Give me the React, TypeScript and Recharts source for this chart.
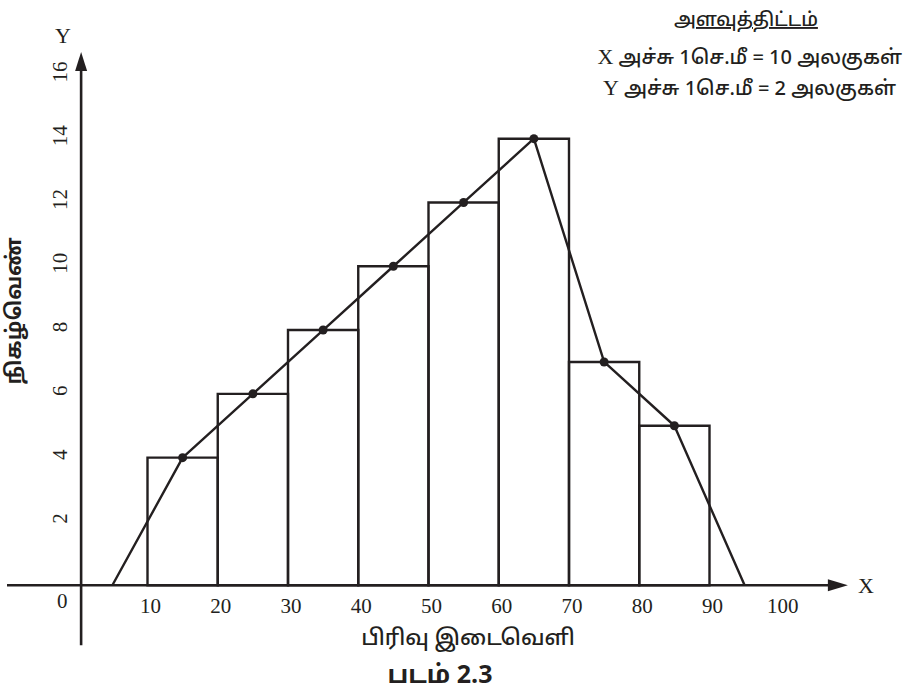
import React from 'react';
import { ComposedChart, Line, XAxis, YAxis, ReferenceArea, ReferenceLine, ReferenceDot } from 'recharts';

const classLower = [10, 20, 30, 40, 50, 60, 70, 80];
const classUpper = [20, 30, 40, 50, 60, 70, 80, 90];
const frequencies = [4, 6, 8, 10, 12, 14, 7, 5];
const curveX = [5, 15, 25, 35, 45, 55, 65, 75, 85, 95];
const curveY = [0, 4, 6, 8, 10, 12, 14, 7, 5, 0];
const xTicks = [10, 20, 30, 40, 50, 60, 70, 80, 90, 100];
const yTicks = [2, 4, 6, 8, 10, 12, 14, 16];

const titleText = 'அளவுத்திட்டம்';
const scaleX = ' அச்சு 1செ.மீ = 10 அலகுகள்';
const scaleY = ' அச்சு 1செ.மீ = 2 அலகுகள்';
const xTitle = 'பிரிவு இடைவெளி';
const yTitle = 'நிகழ்வெண்';
const caption = 'படம் 2.3';

const curveData = curveX.map((x, i) => ({ x, y: curveY[i] }));

const SERIF = "'Liberation Serif', 'DejaVu Serif', serif";
const SANS = "'Noto Sans Tamil', 'Noto Sans', Lato, Roboto, sans-serif";
const INK = '#231f20';

const HArrowLine = (p: any) => (
  <g>
    <line x1={p.x1} y1={p.y1} x2={p.x2 - 10} y2={p.y2} stroke={INK} strokeWidth={2.6} />
    <polygon points={`${p.x2},${p.y2} ${p.x2 - 20},${p.y2 - 6} ${p.x2 - 20},${p.y2 + 6}`} fill={INK} />
  </g>
);

const VArrowLine = (p: any) => {
  const top = Math.min(p.y1, p.y2);
  const bottom = Math.max(p.y1, p.y2);
  return (
    <g>
      <line x1={p.x1} y1={bottom} x2={p.x1} y2={top + 10} stroke={INK} strokeWidth={2.6} />
      <polygon points={`${p.x1},${top} ${p.x1 - 6},${top + 19} ${p.x1 + 6},${top + 19}`} fill={INK} />
    </g>
  );
};

const CurveDot = (props: any) => {
  const { cx, cy, index } = props;
  if (index === 0 || index === curveData.length - 1) return <g key={index} />;
  return <circle key={index} cx={cx} cy={cy} r={4.5} fill={INK} />;
};

export default function App() {
  return (
    <div style={{ position: 'absolute', left: 0, top: 0, background: '#fff' }}>
      <ComposedChart
        width={904}
        height={693}
        data={curveData}
        margin={{ top: 43, right: 54, bottom: 44, left: 7 }}
      >
        <XAxis dataKey="x" type="number" domain={[-10, 110]} hide allowDataOverflow />
        <YAxis type="number" domain={[-2, 17]} hide allowDataOverflow />

        {classLower.map((lo, i) => (
          <ReferenceArea
            key={`bar-${i}`}
            x1={lo}
            x2={classUpper[i]}
            y1={0}
            y2={frequencies[i]}
            fill="none"
            fillOpacity={0}
            stroke={INK}
            strokeWidth={2.4}
            strokeOpacity={1}
            ifOverflow="visible"
          />
        ))}

        <ReferenceLine
          segment={[{ x: -10, y: 0 }, { x: 109.7, y: 0 }]}
          shape={HArrowLine}
          ifOverflow="visible"
        />
        <ReferenceLine
          segment={[{ x: 0.55, y: -1.88 }, { x: 0.55, y: 16.72 }]}
          shape={VArrowLine}
          ifOverflow="visible"
        />

        <Line
          dataKey="y"
          type="linear"
          stroke={INK}
          strokeWidth={2.4}
          strokeLinejoin="round"
          dot={CurveDot}
          activeDot={false}
          isAnimationActive={false}
        />

        {xTicks.map((t) => (
          <ReferenceDot
            key={`xt-${t}`}
            x={t}
            y={0}
            r={0}
            ifOverflow="visible"
            shape={(p: any) => (
              <text x={p.cx + 3} y={p.cy + 28} textAnchor="middle" fontFamily={SERIF} fontSize={21} fill={INK}>
                {t}
              </text>
            )}
          />
        ))}
        <ReferenceDot
          x={0}
          y={0}
          r={0}
          ifOverflow="visible"
          shape={(p: any) => (
            <text x={p.cx - 15} y={p.cy + 23} textAnchor="middle" fontFamily={SERIF} fontSize={21} fill={INK}>
              0
            </text>
          )}
        />
        {yTicks.map((t) => (
          <ReferenceDot
            key={`yt-${t}`}
            x={0}
            y={t}
            r={0}
            ifOverflow="visible"
            shape={(p: any) => (
              <text
                x={p.cx - 17}
                y={p.cy - 3}
                textAnchor="middle"
                dominantBaseline="central"
                transform={`rotate(-90 ${p.cx - 17} ${p.cy - 3})`}
                fontFamily={SERIF}
                fontSize={21}
                fill={INK}
              >
                {t}
              </text>
            )}
          />
        ))}

        <text x={63} y={43} textAnchor="middle" fontFamily={SERIF} fontSize={22} fill={INK}>Y</text>
        <text x={866} y={593} textAnchor="middle" fontFamily={SERIF} fontSize={22} fill={INK}>X</text>

        <text x={746} y={26} textAnchor="middle" fontFamily={SANS} fontSize={19} fontWeight={500} fill={INK} textDecoration="underline">
          {titleText}
        </text>
        <text x={902} y={64} textAnchor="end" fontFamily={SANS} fontSize={20} fontWeight={500} fill={INK}>
          <tspan fontFamily={SERIF} fontSize={22} fontWeight={400}>X</tspan>
          {scaleX}
        </text>
        <text x={896} y={95} textAnchor="end" fontFamily={SANS} fontSize={20} fontWeight={500} fill={INK}>
          <tspan fontFamily={SERIF} fontSize={22} fontWeight={400}>Y</tspan>
          {scaleY}
        </text>

        <text
          x={16}
          y={311}
          textAnchor="middle"
          dominantBaseline="central"
          transform="rotate(-90 16 311)"
          fontFamily={SANS}
          fontSize={21}
          fontWeight="bold"
          fill={INK}
        >
          {yTitle}
        </text>
        <text x={468} y={645} textAnchor="middle" fontFamily={SANS} fontSize={22} fontWeight={500} fill={INK}>
          {xTitle}
        </text>
        <text x={440} y={683} textAnchor="middle" fontFamily={SANS} fontSize={25} fontWeight="bold" fill={INK}>
          {caption}
        </text>
      </ComposedChart>
    </div>
  );
}
